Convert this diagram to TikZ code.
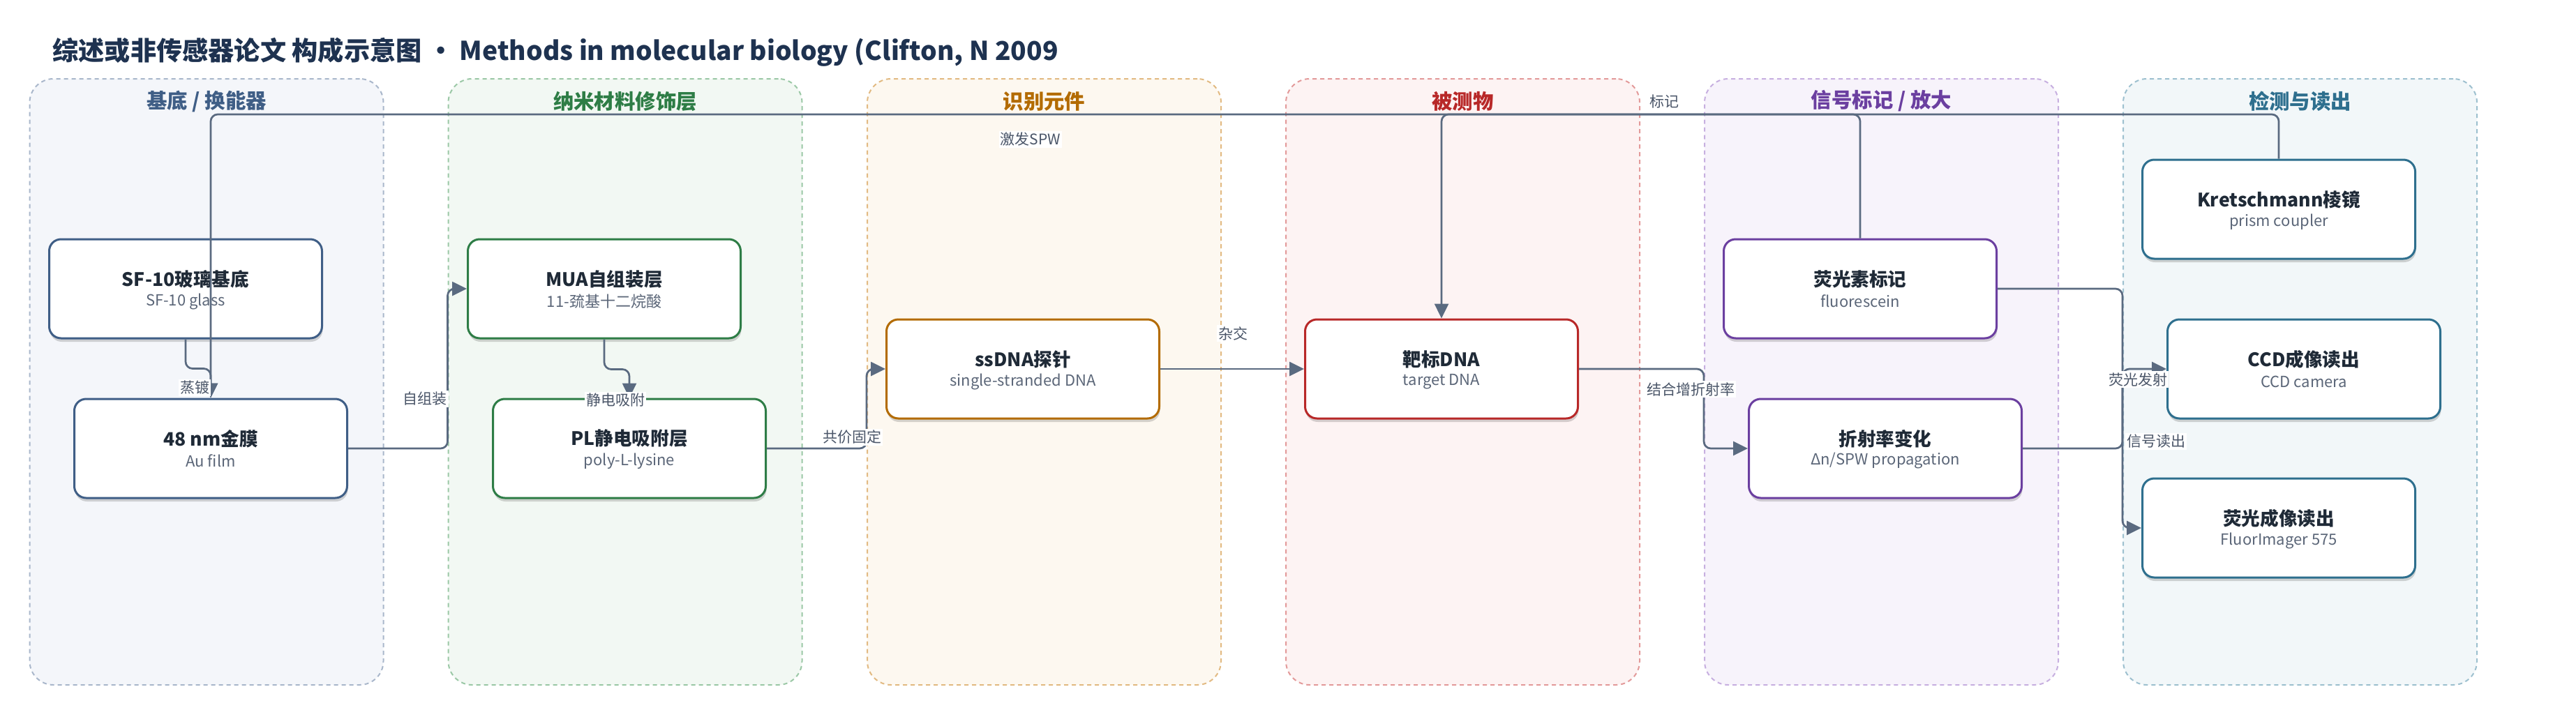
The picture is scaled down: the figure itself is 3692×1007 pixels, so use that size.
\documentclass[tikz,border=0pt]{standalone}
\usepackage{fontspec}
\setmainfont{Noto Sans CJK SC}
\usetikzlibrary{arrows.meta,shadows,calc}
\definecolor{laneAfill}{HTML}{F4F6FA}\definecolor{laneAbd}{HTML}{A9B7CB}\definecolor{laneAdk}{HTML}{3F5E86}
\definecolor{laneBfill}{HTML}{F2F8F3}\definecolor{laneBbd}{HTML}{9BC8A6}\definecolor{laneBdk}{HTML}{2E7D46}
\definecolor{laneCfill}{HTML}{FDF8F0}\definecolor{laneCbd}{HTML}{E2BA82}\definecolor{laneCdk}{HTML}{B36B00}
\definecolor{laneDfill}{HTML}{FDF3F3}\definecolor{laneDbd}{HTML}{E39A9A}\definecolor{laneDdk}{HTML}{B82828}
\definecolor{laneEfill}{HTML}{F7F3FB}\definecolor{laneEbd}{HTML}{C7AFE0}\definecolor{laneEdk}{HTML}{6B3FA0}
\definecolor{laneFfill}{HTML}{F2F7F9}\definecolor{laneFbd}{HTML}{9DC0CF}\definecolor{laneFdk}{HTML}{2E6F8E}
\definecolor{edgec}{HTML}{5A6A80}
\definecolor{ttext}{HTML}{1F2A37}
\definecolor{stext}{HTML}{5B6678}
\definecolor{labc}{HTML}{4A5568}
\definecolor{headc}{HTML}{1E3250}
\newcommand{\mybox}[6]{%
  \node[nodebox, draw=#4] (#1) at (#2,#3) {};
  \node[ntitle] (#1-t) at ([yshift=7pt]#1.center) {#5};
  \node[nsub] (#1-s) at ([yshift=-9pt]#1.center) {#6};
}
\begin{document}
\begin{tikzpicture}[x=0.5pt,y=-0.5pt,
  lane/.style={draw, dash pattern=on 3pt off 2.5pt, line width=1pt, rounded corners=17pt,
    minimum width=253.5pt, minimum height=434.5pt, inner sep=0pt},
  lanetitle/.style={font=\fontsize{14.7}{17}\selectfont\bfseries, inner sep=0pt},
  nodebox/.style={fill=white, line width=1.5pt, rounded corners=8.5pt,
    minimum width=195.5pt, minimum height=71pt, inner sep=0pt,
    drop shadow={shadow xshift=0.5pt, shadow yshift=-2.5pt, opacity=0.16, fill=black}},
  ntitle/.style={font=\fontsize{13.3}{16}\selectfont\bfseries, text=ttext, inner sep=0pt},
  nsub/.style={font=\fontsize{11}{13}\selectfont, text=stext, inner sep=0pt},
  conn/.style={draw=edgec, line width=1.35pt, rounded corners=5pt,
    -{Triangle[length=10.5pt,width=10pt]}},
  elabel/.style={fill=white, inner sep=1pt, text=labc, font=\fontsize{10.5}{12}\selectfont},
]
\useasboundingbox (0,0) rectangle (3692,1007);
\fill[white] (0,0) rectangle (3692,1007);

% title
\node[anchor=west, inner sep=0pt, text=headc, font=\fontsize{18.6}{22}\selectfont\bfseries] (head) at (75,75)
  {综述或非传感器论文 构成示意图 · Methods in molecular biology (Clifton, N 2009};

% lanes
\node[lane, fill=laneAfill, draw=laneAbd] (laneA) at (296,547.5) {};
\node[lane, fill=laneBfill, draw=laneBbd] (laneB) at (896,547.5) {};
\node[lane, fill=laneCfill, draw=laneCbd] (laneC) at (1496.5,547.5) {};
\node[lane, fill=laneDfill, draw=laneDbd] (laneD) at (2096.5,547.5) {};
\node[lane, fill=laneEfill, draw=laneEbd] (laneE) at (2696.5,547.5) {};
\node[lane, fill=laneFfill, draw=laneFbd] (laneF) at (3296.5,547.5) {};
\node[lanetitle, text=laneAdk] (laneA-t) at (296,145) {基底 / 换能器};
\node[lanetitle, text=laneBdk] (laneB-t) at (896,145) {纳米材料修饰层};
\node[lanetitle, text=laneCdk] (laneC-t) at (1496.5,145) {识别元件};
\node[lanetitle, text=laneDdk] (laneD-t) at (2096.5,145) {被测物};
\node[lanetitle, text=laneEdk] (laneE-t) at (2696.5,145) {信号标记 / 放大};
\node[lanetitle, text=laneFdk] (laneF-t) at (3296.5,145) {检测与读出};

% nodes
\mybox{sf}{266}{414}{laneAdk}{SF-10玻璃基底}{SF-10 glass}
\mybox{au}{302}{643}{laneAdk}{48 nm金膜}{Au film}
\mybox{mua}{866}{414}{laneBdk}{MUA自组装层}{11-巯基十二烷酸}
\mybox{pl}{902}{643}{laneBdk}{PL静电吸附层}{poly-L-lysine}
\mybox{ss}{1466}{529}{laneCdk}{ssDNA探针}{single-stranded DNA}
\mybox{tg}{2066}{529}{laneDdk}{靶标DNA}{target DNA}
\mybox{fl}{2666}{414}{laneEdk}{荧光素标记}{fluorescein}
\mybox{rf}{2702}{643}{laneEdk}{折射率变化}{Δn/SPW propagation}
\mybox{kr}{3266}{300}{laneFdk}{Kretschmann棱镜}{prism coupler}
\mybox{ccd}{3302}{529}{laneFdk}{CCD成像读出}{CCD camera}
\mybox{fi}{3266}{757}{laneFdk}{荧光成像读出}{FluorImager 575}

\coordinate (topy) at (0,164);

% connectors
\draw[conn] (sf.south) -- ++(0,42) -| (au.north);
\draw[conn] (kr.north) -- (kr.north |- topy) -| (au.north);
\draw[conn] (fl.north) -- (fl.north |- topy) -| (tg.north);
\draw[conn] (au.east) -- (au.east -| laneB.west) |- (mua.west);
\draw[conn] (mua.south) -- ++(0,43) -| (pl.north);
\draw[conn] (pl.east) -- (pl.east -| laneC.west) |- (ss.west);
\draw[conn] (ss.east) -- (tg.west);
\draw[conn] (tg.east) -- (tg.east -| laneE.west) |- (rf.west);
\draw[conn] (fl.east) -- (fl.east -| laneF.west) |- (fi.west);
\draw[conn] (rf.east) -- (rf.east -| laneF.west) |- (ccd.west);

% connector labels
\node[elabel] (l-zd) at (279,556) {蒸镀};
\node[elabel] (l-jf) at (1477,200) {激发SPW};
\node[elabel] (l-bj) at (2385,146) {标记};
\node[elabel] (l-zz) at (609,572) {自组装};
\node[elabel] (l-jd) at (882,574) {静电吸附};
\node[elabel] (l-gj) at (1221,627) {共价固定};
\node[elabel] (l-zj) at (1767,478) {杂交};
\node[elabel] (l-jh) at (2423,558) {结合增折射率};
\node[elabel] (l-yg) at (3064,544) {荧光发射};
\node[elabel] (l-xh) at (3090,633) {信号读出};
\end{tikzpicture}
\end{document}
